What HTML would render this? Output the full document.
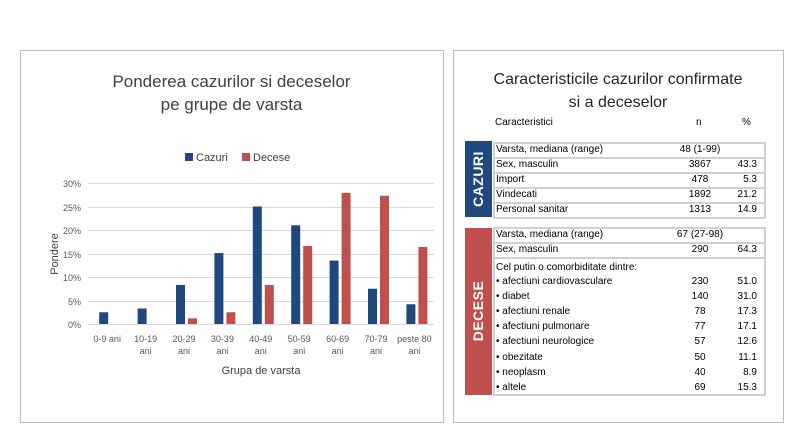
<!DOCTYPE html><html><head><style>
body{margin:0;width:794px;height:430px;background:#fff;font-family:"Liberation Sans",sans-serif;position:relative;overflow:hidden}
.p{position:absolute;border:1px solid #bdbdbd;background:#fff}
.a{position:absolute;white-space:nowrap;font-size:10px;color:#000}
.r{position:absolute;left:493px;width:273px;border:2px solid #d0d0d0;box-sizing:border-box}
.lab{position:absolute;color:#fff;font-weight:bold;font-size:14px;letter-spacing:.5px}
</style></head><body>
<div class="p" style="left:20px;top:50px;width:422px;height:371px"></div>
<div class="p" style="left:453px;top:50px;width:329px;height:371px"></div>
<div class="a" style="left:20px;width:423px;text-align:center;top:70px;font-size:17px;color:#404040;line-height:23px;white-space:normal">Ponderea cazurilor si deceselor<br>pe grupe de varsta</div>
<svg style="position:absolute;left:0;top:0" width="794" height="430">
<g stroke="#d9d9d9" stroke-width="1">
<line x1="88" x2="434" y1="183.5" y2="183.5"/><line x1="88" x2="434" y1="207.5" y2="207.5"/><line x1="88" x2="434" y1="230.5" y2="230.5"/><line x1="88" x2="434" y1="254.5" y2="254.5"/><line x1="88" x2="434" y1="277.5" y2="277.5"/><line x1="88" x2="434" y1="301.5" y2="301.5"/><line x1="88" x2="434" y1="324.5" y2="324.5"/></g>
<g font-family="Liberation Sans" font-size="9" fill="#595959" text-anchor="end">
<text x="81" y="187">30%</text><text x="81" y="211">25%</text><text x="81" y="234">20%</text><text x="81" y="258">15%</text><text x="81" y="281">10%</text><text x="81" y="305">5%</text><text x="81" y="328">0%</text></g>
<g id="bars"></g>
<text x="58" y="254" transform="rotate(-90 58 254)" text-anchor="middle" font-family="Liberation Sans" font-size="11" fill="#404040">Pondere</text>
<text x="261" y="374" text-anchor="middle" font-family="Liberation Sans" font-size="11" fill="#404040">Grupa de varsta</text>
<rect x="185" y="153" width="8" height="8" fill="#1f497d"/><text x="196" y="161" font-family="Liberation Sans" font-size="11" fill="#404040">Cazuri</text>
<rect x="242" y="153" width="8" height="8" fill="#c0504d"/><text x="253" y="161" font-family="Liberation Sans" font-size="11" fill="#404040">Decese</text>
<g font-family="Liberation Sans" font-size="9" fill="#595959" text-anchor="middle" id="xl"></g>
</svg>
<script>
var c=[2.5,3.3,8.3,15.1,25,21,13.5,7.5,4.2],d=[0,0,1.2,2.5,8.3,16.6,27.9,27.3,16.4];
var l1=["0-9 ani","10-19","20-29","30-39","40-49","50-59","60-69","70-79","peste 80"];
var s='',t='';
for(var i=0;i<9;i++){var cx=88+38.4*(i+0.5);
var h=c[i]*4.7;s+='<rect x="'+(cx-8)+'" y="'+(324-h)+'" width="9" height="'+h+'" fill="#1f497d"/>';
h=d[i]*4.7;if(h>0)s+='<rect x="'+(cx+4)+'" y="'+(324-h)+'" width="9" height="'+h+'" fill="#c0504d"/>';
t+='<text x="'+cx+'" y="342">'+l1[i]+'</text>';if(i>0)t+='<text x="'+cx+'" y="354">ani</text>';}
document.getElementById('bars').innerHTML=s;document.getElementById('xl').innerHTML=t;
</script>
<div class="a" style="left:453px;width:330px;text-align:center;top:68px;font-size:16px;color:#262626;line-height:23px;white-space:normal">Caracteristicile cazurilor confirmate<br>si a deceselor</div>
<div class="a" style="left:495px;top:117px">Caracteristici</div>
<div class="a" style="left:696px;top:117px">n</div>
<div class="a" style="left:742px;top:117px">%</div>
<div style="position:absolute;left:465px;top:141px;width:27px;height:76px;background:#1f497d"></div>
<div class="lab" style="left:478px;top:179px;transform:translate(-50%,-50%) rotate(-90deg)">CAZURI</div>
<div style="position:absolute;left:465px;top:228px;width:27px;height:167px;background:#c0504d"></div>
<div class="lab" style="left:478px;top:311px;transform:translate(-50%,-50%) rotate(-90deg)">DECESE</div>
<div id="rows"></div>
<script>
var R=[[142,"Varsta, mediana (range)","48 (1-99)",""],[157,"Sex, masculin","3867","43.3"],[172,"Import","478","5.3"],[187,"Vindecati","1892","21.2"],[202,"Personal sanitar","1313","14.9"],[227,"Varsta, mediana (range)","67 (27-98)",""],[242,"Sex, masculin","290","64.3"]];
var o='';R.forEach(function(r){o+='<div class="r" style="top:'+r[0]+'px;height:17px"></div><div class="a" style="left:496px;top:'+(r[0]+2)+'px">'+r[1]+'</div>';
if(r[3])o+='<div class="a" style="left:680px;width:40px;text-align:center;top:'+(r[0]+2)+'px">'+r[2]+'</div><div class="a" style="left:723px;width:34px;text-align:right;top:'+(r[0]+2)+'px">'+r[3]+'</div>';
else o+='<div class="a" style="left:660px;width:80px;text-align:center;top:'+(r[0]+2)+'px">'+r[2]+'</div>';});
o+='<div class="r" style="top:257px;height:139px"></div><div class="a" style="left:496px;top:262px">Cel putin o comorbiditate dintre:</div>';
var D=[["afectiuni cardiovasculare","230","51.0"],["diabet","140","31.0"],["afectiuni renale","78","17.3"],["afectiuni pulmonare","77","17.1"],["afectiuni neurologice","57","12.6"],["obezitate","50","11.1"],["neoplasm","40","8.9"],["altele","69","15.3"]];
D.forEach(function(r,i){var y=276+i*15.1;o+='<div class="a" style="left:496px;top:'+y+'px">• '+r[0]+'</div><div class="a" style="left:680px;width:40px;text-align:center;top:'+y+'px">'+r[1]+'</div><div class="a" style="left:723px;width:34px;text-align:right;top:'+y+'px">'+r[2]+'</div>';});
document.getElementById('rows').innerHTML=o;
</script>
</body></html>
